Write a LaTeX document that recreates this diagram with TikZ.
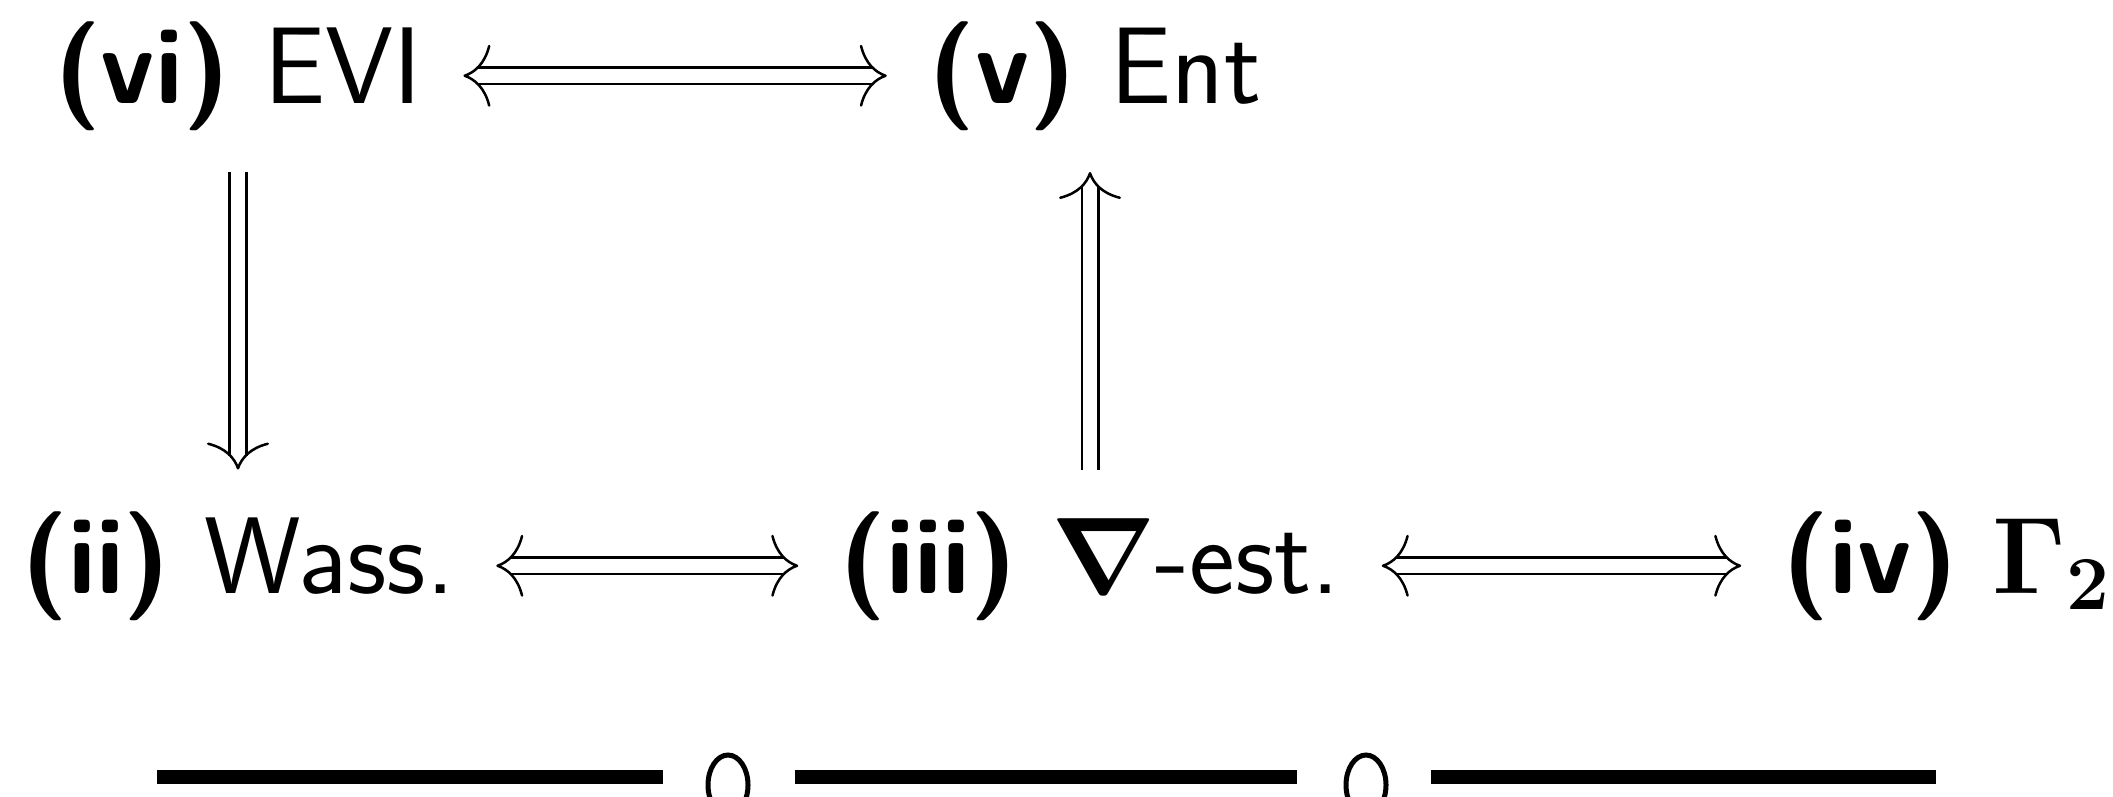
\RequirePackage{fix-cm}
\documentclass[tikz,border=0pt]{standalone}
\usepackage{amsmath,amssymb}
\usepackage[no-math]{fontspec}
\usepackage{tikz}
\usetikzlibrary{arrows.meta, positioning}

\begin{document}
\begin{tikzpicture}[x=0.01cm, y=-0.01cm,
    head/.tip={Computer Modern Rightarrow[color=black, line width=0.025cm, length=0.27cm, width=0.62cm]},
    item/.style={anchor=base, inner sep=0.41cm, text height=23.25pt, text depth=7.75pt, font=\fontsize{31}{37}\selectfont\sffamily},
    rails/.style={double, double distance=0.14cm, line width=0.025cm},
    arrow/.style={rails, shorten >=0.14cm,
        postaction={draw=white, line width=0.1cm, shorten >=0pt, -head}},
    equiv/.style={rails, shorten >=0.14cm, shorten <=0.14cm,
        postaction={draw=white, line width=0.1cm, shorten >=0pt, shorten <=0pt, head-head}},
    rule/.style={line width=0.14cm},
    ring/.style={line width=0.05cm}
]
    \useasboundingbox (0,0) rectangle (2113,796);
    % Place nodes
    \node [item] (vi) at (238,103) {\textbf{(vi)} EVI};
    \node [item] (v) at (1095,103) {\textbf{(v)} Ent};
    \node [item] (ii) at (238,593) {\textbf{(ii)} Wass.};
    \node [item] (iii) at (1090,593) {\textbf{(iii)} $\boldsymbol{\nabla}$-est.};
    \node [item] (iv) at (1947,593) {\textbf{(iv)} $\mathbf{\Gamma_2}$};

    % Draw edges
    \draw [equiv] (vi) -- (v);
    \draw [arrow] (vi) -- (vi |- ii.north);
    \draw [arrow] (iii) -- (iii |- v.south);
    \draw [equiv] (ii) -- (iii);
    \draw [equiv] (iii) -- (iv);

    % bottom rule
    \draw [rule] (157,777) -- (663,777);
    \draw [ring] (728,785) ellipse [x radius=20, y radius=30];
    \draw [rule] (795,777) -- (1297,777);
    \draw [ring] (1366,785) ellipse [x radius=20, y radius=30];
    \draw [rule] (1431,777) -- (1936,777);
\end{tikzpicture}
\end{document}
